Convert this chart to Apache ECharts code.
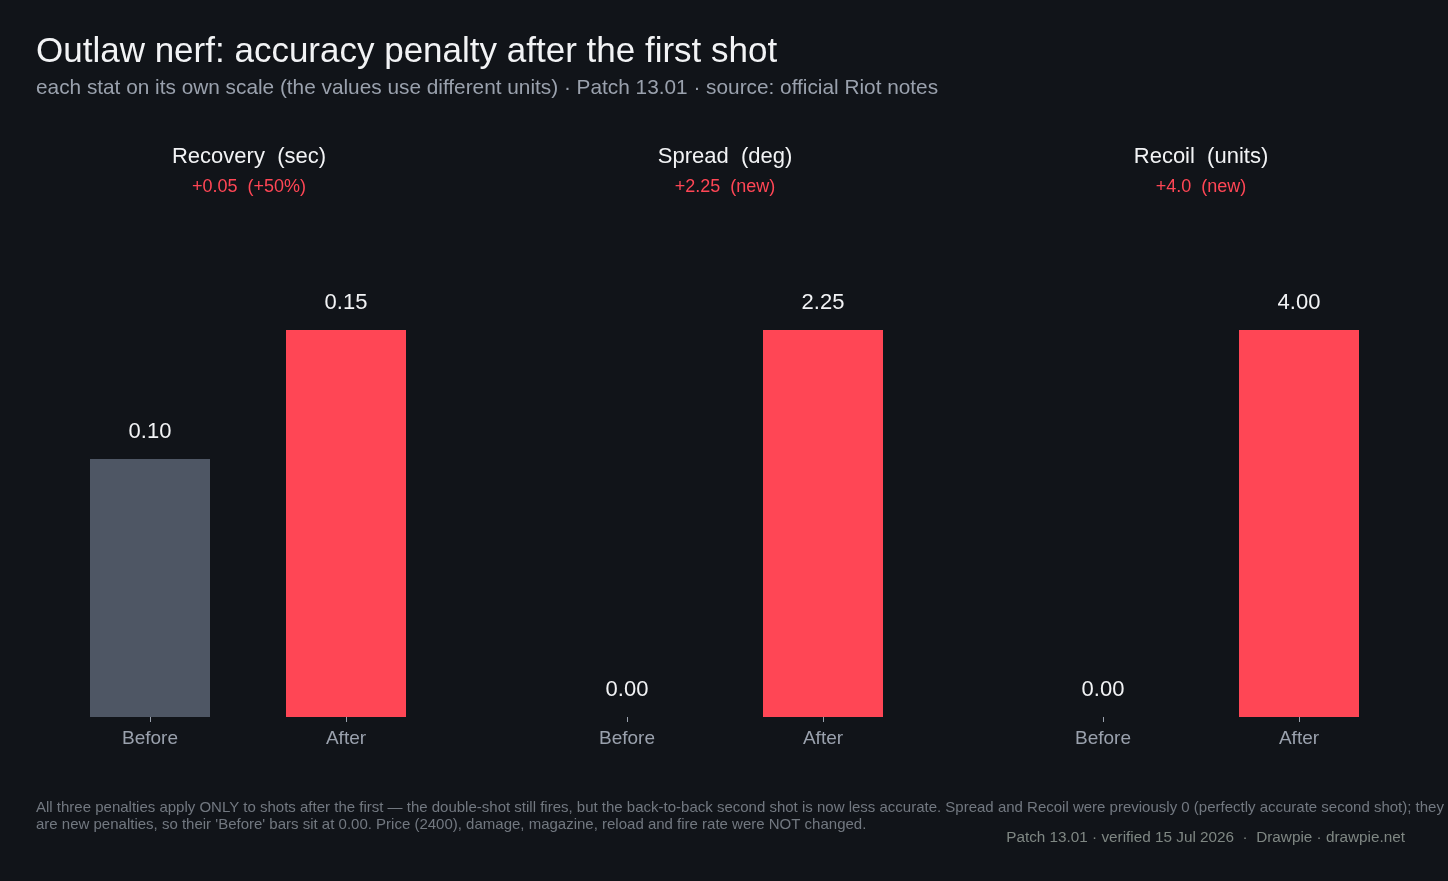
<!DOCTYPE html>
<html>
<head>
<meta charset="utf-8">
<title>Outlaw nerf</title>
<script src="https://cdn.jsdelivr.net/npm/echarts@6/dist/echarts.min.js"></script>
<style>
  html, body { margin: 0; padding: 0; background: #111419; }
  #chart { width: 1448px; height: 881px; }
</style>
</head>
<body>
<div id="chart"></div>
<script>
// data
const categories = ["Before", "After"];
const statNames = ["Recovery  (sec)", "Spread  (deg)", "Recoil  (units)"];
const statDeltas = ["+0.05  (+50%)", "+2.25  (new)", "+4.0  (new)"];
const recoveryValues = [0.10, 0.15];
const spreadValues = [0.00, 2.25];
const recoilValues = [0.00, 4.00];
const panelValues = [recoveryValues, spreadValues, recoilValues];

const FONT = "'Liberation Sans', Arial, sans-serif";
const GREY = "#4e5664";
const RED = "#ff4655";

const chart = echarts.init(document.getElementById("chart"));

const grids = [], xAxes = [], yAxes = [], series = [], titles = [];

titles.push({
  text: "Outlaw nerf: accuracy penalty after the first shot",
  subtext: "each stat on its own scale (the values use different units) · Patch 13.01 · source: official Riot notes",
  left: 31, top: 30,
  itemGap: 8,
  textStyle: { color: "#f2f3f5", fontSize: 35, fontWeight: "normal", fontFamily: FONT },
  subtextStyle: { color: "#9aa1ad", fontSize: 20.8, fontFamily: FONT }
});

panelValues.forEach((vals, i) => {
  const left = 52 + 476 * i;
  grids.push({ left: left + (i > 0 ? 1 : 0), width: 392, top: 330, bottom: 164 });
  xAxes.push({
    type: "category",
    gridIndex: i,
    data: categories,
    axisLine: { show: false },
    axisTick: { show: true, alignWithLabel: true, length: 5, lineStyle: { color: "#9aa1ad" } },
    axisLabel: { color: "#9aa1ad", fontSize: 19, fontFamily: FONT, margin: 12 }
  });
  yAxes.push({
    type: "value",
    gridIndex: i,
    min: 0,
    max: v => v.max,
    show: false,
    splitLine: { show: false }
  });
  series.push({
    type: "bar",
    xAxisIndex: i,
    yAxisIndex: i,
    barWidth: 120,
    data: vals.map((v, k) => ({ value: v, itemStyle: { color: k === 0 ? GREY : RED } })),
    label: {
      show: true,
      position: "top",
      distance: 16,
      color: "#f2f3f5",
      fontSize: 22,
      fontFamily: FONT,
      formatter: p => p.value.toFixed(2)
    }
  });
  titles.push({
    text: statNames[i],
    subtext: statDeltas[i],
    left: left + 192,
    top: 141,
    textAlign: "center",
    itemGap: 10,
    textStyle: { color: "#f2f3f5", fontSize: 22, fontWeight: "normal", fontFamily: FONT },
    subtextStyle: { color: RED, fontSize: 18, fontFamily: FONT }
  });
});

chart.setOption({
  backgroundColor: "#111419",
  animation: false,
  title: titles,
  grid: grids,
  xAxis: xAxes,
  yAxis: yAxes,
  series: series,
  graphic: [
    {
      type: "text",
      left: 36, top: 799,
      style: {
        text: "All three penalties apply ONLY to shots after the first — the double-shot still fires, but the back-to-back second shot is now less accurate. Spread and Recoil were previously 0 (perfectly accurate second shot); they\nare new penalties, so their 'Before' bars sit at 0.00. Price (2400), damage, magazine, reload and fire rate were NOT changed.",
        fill: "#727880",
        font: "15px " + FONT,
        lineHeight: 17
      }
    },
    {
      type: "text",
      right: 43, top: 830,
      style: {
        text: "Patch 13.01 · verified 15 Jul 2026  ·  Drawpie · drawpie.net",
        fill: "#7f8783",
        font: "15.3px " + FONT
      }
    }
  ]
});
</script>
</body>
</html>
